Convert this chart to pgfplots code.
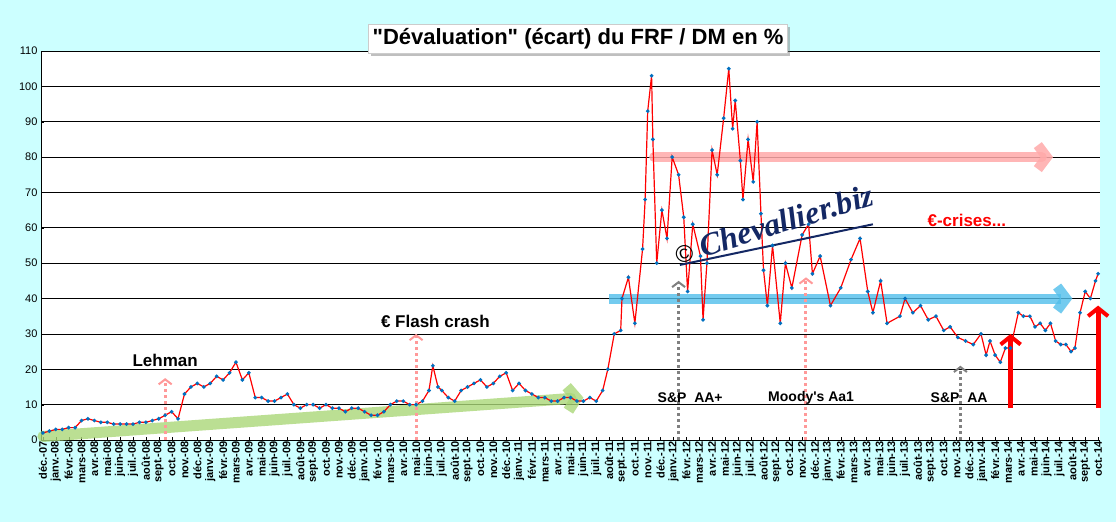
\documentclass[border=0pt]{standalone}
\usepackage{pgfplots}
\pgfplotsset{compat=1.18}
\usepackage{fontspec}
\setmainfont[Ligatures=TeXOff]{Liberation Sans}
\newfontfamily\wmfont{Liberation Serif}
\usetikzlibrary{arrows.meta,shadows}
\definecolor{bg}{RGB}{204,255,255}
\definecolor{ptblue}{RGB}{0,112,192}
\definecolor{wm}{RGB}{20,40,100}
\definecolor{garrow}{RGB}{170,215,120}
\definecolor{barrow}{RGB}{80,190,235}
\definecolor{parrow}{RGB}{255,170,170}
\begin{document}
\begin{tikzpicture}
\fill[bg] (0pt,0pt) rectangle (1116pt,522pt);
\begin{axis}[at={(41pt,82pt)},anchor=south west,scale only axis,width=1059pt,height=389pt,
 axis background/.style={fill=white},
 xmin=-0.15,xmax=82.15,ymin=0,ymax=110,
 axis x line*=bottom, axis y line*=left, axis line style={black,-},
 ytick={0,10,...,110}, ymajorgrids, grid style={black,line width=0.7pt},
 yticklabel style={font=\fontsize{11}{11}\selectfont},
 /pgf/number format/assume math mode=true,
 xtick={0,...,82}, major tick length=3pt, tick style={black},
 xticklabel style={rotate=90,anchor=east,font=\bfseries\fontsize{11}{11}\selectfont,inner sep=1pt},
 xticklabels={déc.-07,janv.-08,févr.-08,mars-08,avr.-08,mai-08,juin-08,juil.-08,août-08,sept.-08,oct.-08,nov.-08,déc.-08,
 janv.-09,févr.-09,mars-09,avr.-09,mai-09,juin-09,juil.-09,août-09,sept.-09,oct.-09,nov.-09,déc.-09,
 janv.-10,févr.-10,mars-10,avr.-10,mai-10,juin-10,juil.-10,août-10,sept.-10,oct.-10,nov.-10,déc.-10,
 janv.-11,févr.-11,mars-11,avr.-11,mai-11,juin-11,juil.-11,août-11,sept.-11,oct.-11,nov.-11,déc.-11,
 janv.-12,févr.-12,mars-12,avr.-12,mai-12,juin-12,juil.-12,août-12,sept.-12,oct.-12,nov.-12,déc.-12,
 janv.-13,févr.-13,mars-13,avr.-13,mai-13,juin-13,juil.-13,août-13,sept.-13,oct.-13,nov.-13,déc.-13,
 janv.-14,févr.-14,mars-14,avr.-14,mai-14,juin-14,juil.-14,août-14,sept.-14,oct.-14},
 clip=false]
\draw[garrow,opacity=0.8,line width=11pt,line cap=round,-{Straight Barb[length=9pt,width=24pt]}] (axis cs:0,1) -- (axis cs:42,12);
\draw[parrow,opacity=0.85,line width=10pt,line cap=round,-{Straight Barb[length=9pt,width=24pt]}] (axis cs:47.5,80) -- (axis cs:78.5,80);
\draw[barrow,opacity=0.8,line width=10pt,-{Straight Barb[length=9pt,width=24pt]}] (axis cs:44,40) -- (axis cs:80,40);
\addplot[red,line width=1.2pt,mark=*,mark size=1.2pt,mark options={ptblue,draw=ptblue}] coordinates {
(0,2)(0.5,2.5)(1,3)(1.5,3)(2,3.5)(2.5,3.5)(3,5.5)(3.5,6)(4,5.5)(4.5,5)(5,5)(5.5,4.5)(6,4.5)(6.5,4.5)(7,4.5)(7.5,5)(8,5)(8.5,5.5)(9,6)(9.5,7)(10,8)(10.5,6)(11,13)(11.5,15)(12,16)(12.5,15)(13,16)(13.5,18)(14,17)(14.5,19)(15,22)(15.5,17)(16,19)(16.5,12)(17,12)(17.5,11)(18,11)(18.5,12)(19,13)(19.5,10)(20,9)(20.5,10)(21,10)(21.5,9)(22,10)(22.5,9)(23,9)(23.5,8)(24,9)(24.5,9)(25,8)(25.5,7)(26,7)(26.5,8)(27,10)(27.5,11)(28,11)(28.5,10)(29,10)(29.5,11)(30,14)(30.3,21)(30.7,15)(31,14)(31.5,12)(32,11)(32.5,14)(33,15)(33.5,16)(34,17)(34.5,15)(35,16)(35.5,18)(36,19)(36.5,14)(37,16)(37.5,14)(38,13)(38.5,12)(39,12)(39.5,11)(40,11)(40.5,12)(41,12)(41.5,11)(42,11)(42.5,12)(43,11)(43.5,14)(43.9,20)(44.4,30)(44.9,31)(45,40)(45.5,46)(46,33)(46.6,54)(46.8,68)(47,93)(47.3,103)(47.4,85)(47.7,50)(48.1,65)(48.5,57)(48.9,80)(49.4,75)(49.8,63)(50.1,42)(50.5,61)(51.1,52)(51.3,34)(51.6,50)(52,82)(52.4,75)(52.9,91)(53.3,105)(53.6,88)(53.8,96)(54.2,79)(54.4,68)(54.8,85)(55.2,73)(55.5,90)(55.8,64)(56,48)(56.3,38)(56.7,55)(57.3,33)(57.7,50)(58.2,43)(59,58)(59.5,61)(59.8,47)(60.4,52)(61.2,38)(62,43)(62.8,51)(63.5,57)(64.1,42)(64.5,36)(65.1,45)(65.6,33)(66.6,35)(67,40)(67.6,36)(68.2,38)(68.8,34)(69.4,35)(70,31)(70.5,32)(71.1,29)(71.7,28)(72.3,27)(72.9,30)(73.3,24)(73.6,28)(74,24)(74.4,22)(74.8,26)(75.2,26)(75.8,36)(76.2,35)(76.7,35)(77.1,32)(77.5,33)(77.9,31)(78.3,33)(78.7,28)(79.1,27)(79.5,27)(79.9,25)(80.2,26)(80.6,36)(81,42)(81.4,40)(81.8,45)(82,47)};
\tikzset{dotarr/.style={line width=3pt,dash pattern=on 3pt off 3pt,-{Straight Barb[length=5pt,width=13pt,line width=2pt]}}}
\draw[parrow!90!red,dotarr] (axis cs:9.5,0) -- (axis cs:9.5,17.5);
\draw[parrow!90!red,dotarr] (axis cs:29,0) -- (axis cs:29,30);
\draw[gray,dotarr] (axis cs:49.4,0) -- (axis cs:49.4,45);
\draw[parrow!90!red,dotarr] (axis cs:59.3,0) -- (axis cs:59.3,46);
\draw[gray,dotarr] (axis cs:71.3,0) -- (axis cs:71.3,21);
\draw[red,line width=5pt,-{Straight Barb[length=8pt,width=20pt,line width=4pt]}] (axis cs:75.2,9) -- (axis cs:75.2,30);
\draw[red,line width=5pt,-{Straight Barb[length=8pt,width=20pt,line width=4pt]}] (axis cs:82,9) -- (axis cs:82,38);
\node[font=\bfseries\fontsize{17}{18}\selectfont] at (axis cs:9.5,22.5) {Lehman};
\node[font=\bfseries\fontsize{17}{18}\selectfont] at (axis cs:30.5,33.5) {€ Flash crash};
\node[font=\bfseries\fontsize{14}{15}\selectfont] at (axis cs:50.3,12) {S\&P\ \ AA+};
\node[font=\bfseries\fontsize{14}{15}\selectfont] at (axis cs:59.7,12) {Moody's Aa1};
\node[font=\bfseries\fontsize{14}{15}\selectfont] at (axis cs:71.2,12) {S\&P\ \ AA};
\node[font=\bfseries\fontsize{17}{18}\selectfont,text=red] at (axis cs:71.8,62) {€-crises...};
\node[rotate=17,font=\wmfont\itshape\bfseries\fontsize{32}{32}\selectfont,text=wm] at (axis cs:56.8,61) {\textcolor{black}{\normalfont\fontsize{24}{24}\selectfont ©} Chevallier.biz};
\draw[wm,line width=2pt] (axis cs:49.5,49.5) -- (axis cs:64.5,61);
\end{axis}
\node[fill=white,draw=white!80!black,drop shadow={opacity=0.5},inner sep=4pt,font=\bfseries\fontsize{22}{24}\selectfont] at (578pt,483pt) {"Dévaluation" (écart) du FRF / DM en \%};
\end{tikzpicture}
\end{document}
